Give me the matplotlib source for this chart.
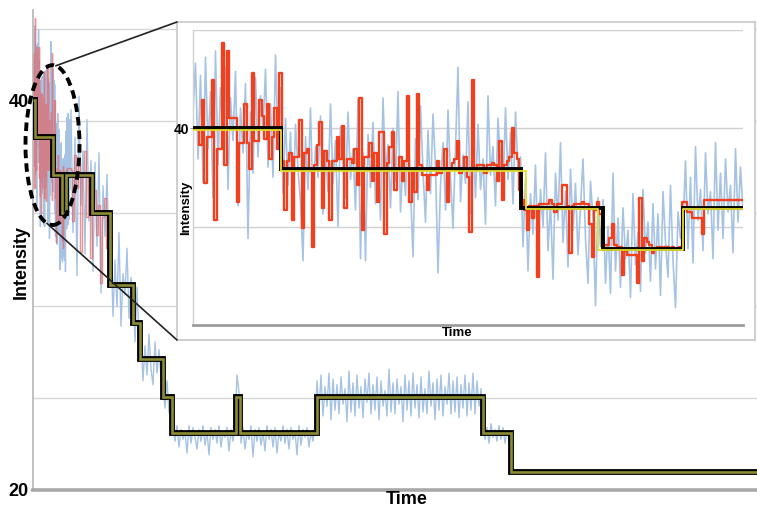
import numpy as np
import matplotlib
matplotlib.use("Agg")
import matplotlib.pyplot as plt
from matplotlib.patches import Ellipse, ConnectionPatch

plt.rcParams['font.family'] = ['Liberation Sans', 'DejaVu Sans']

# ---------------- main trace (time in frames) ----------------
main_fit_edges = [0, 2, 20, 29, 33, 59, 77, 100, 107, 130, 139, 203, 207, 284, 450, 478, 724]
main_fit_levels = [40.0, 38.1, 36.15, 34.2, 36.15, 34.2, 30.5, 28.56, 26.72, 24.77,
                   22.92, 24.77, 22.92, 24.77, 22.92, 20.92]

# raw intensity after the zoomed window, sampled every 2 frames from frame 38
main_blue_start, main_blue_step = 38, 2
main_blue = [
    39.5, 33.2, 38.1, 31.0, 40.2, 34.6, 37.4, 32.1, 39.0, 33.8, 36.9,
    31.2, 36.8, 32.5, 37.3, 30.1, 35.6, 33.0, 36.2, 31.8,
    32.6, 28.9, 31.8, 29.4, 33.2, 28.4, 31.1, 30.0, 32.4, 28.8, 30.9,
    29.9, 27.6, 30.4, 27.8,
    27.9, 25.6, 27.4, 25.9, 28.0, 26.2, 25.4, 27.6, 26.0, 27.2, 25.8,
    25.4, 24.2, 25.6, 24.0, 23.6,
    23.2, 22.5, 23.3, 22.2, 23.1, 22.6, 23.0, 21.9, 23.3, 22.4,
    23.2, 22.7, 22.1, 23.1, 22.5, 23.3, 22.3, 23.0, 21.8, 23.2,
    22.6, 23.1, 22.4, 23.3, 22.2, 23.0, 22.7, 23.2, 22.0, 23.1,
    22.5, 23.4,
    25.9, 25.0,
    22.4, 23.2, 22.1, 23.0, 22.6, 23.3, 21.7, 23.1, 22.5, 23.2,
    22.3, 23.0, 22.0, 23.3, 22.6, 23.1, 22.2, 23.2, 21.9, 23.0,
    22.5, 23.3, 22.4, 23.1, 22.1, 23.2, 22.6, 23.0, 21.8, 23.3,
    22.3, 23.1, 22.7, 23.2, 22.2, 23.0, 22.5, 23.3,
    25.6, 24.0, 25.9, 23.8, 25.3, 24.3, 26.0, 23.6, 25.7, 24.1,
    25.4, 23.9, 25.8, 24.4, 25.2, 23.5, 26.1, 24.0, 25.5, 23.8,
    25.9, 24.2, 25.3, 23.7, 25.7, 24.5, 26.0, 23.9, 25.4, 24.1,
    25.8, 23.6, 25.6, 24.3, 25.1, 23.8, 26.2, 24.0, 25.5, 23.9,
    25.7, 24.4, 25.3, 23.5, 25.9, 24.1, 25.6, 23.8, 26.0, 24.2,
    25.4, 23.7, 25.8, 24.0, 25.2, 23.9, 26.1, 24.3, 25.5, 23.6,
    25.7, 24.1, 25.9, 23.8, 25.3, 24.4, 26.0, 23.9, 25.6, 24.0,
    25.8, 23.7, 25.4, 24.2, 25.9, 23.8, 25.5, 24.1, 26.0, 23.9,
    25.6, 24.3, 25.2,
    23.3, 22.6, 23.2, 22.4, 23.4, 22.7, 23.1, 22.5, 23.3, 22.6,
    23.2, 22.4, 23.0, 22.7, 23.0,
]
main_red_start, main_red_step = 38, 2
main_red = [36.4, 33.8, 37.2, 35.5, 36.8, 32.2, 36.1, 37.4, 34.0, 36.3, 31.9,
            34.2, 35.4, 33.1, 34.6, 30.6, 34.0, 35.0, 32.4, 34.3, 30.5]

main_grid = [24.72, 29.45, 34.2, 38.92, 43.65]
main_ticks = [20, 40]

# ---------------- zoomed window (first frames of the trace) ----------------
zoom_span = 37          # main-trace frames covered by the zoomed window
inset_fit_edges = [0, 35, 131, 164, 196, 220]
inset_fit_levels = [40.0, 38.0, 36.1, 34.1, 36.1]
inset_alt_edges = [0, 35, 133, 162, 196, 220]
inset_alt_levels = [39.93, 37.93, 36.04, 34.04, 36.04]

inset_blue = [
    40.8, 43.2, 38.5, 42.6, 37.4, 43.5, 39.0, 41.8, 36.6, 43.8,
    38.2, 42.0, 40.1, 43.0, 37.0, 41.5, 39.4, 42.8, 36.2, 41.0,
    38.8, 42.2, 34.6, 40.8, 37.8, 42.5, 38.6, 41.6, 39.9, 42.9,
    38.1, 41.2, 37.6, 43.6, 39.2,
    42.0, 36.8, 40.5, 37.2, 39.8, 35.6, 40.2, 38.0, 36.4, 33.5,
    39.6, 37.0, 41.0, 36.2, 39.1, 37.6, 40.6, 35.8, 38.9, 36.9,
    41.2, 37.3, 39.4, 35.2, 40.1, 38.2, 36.6, 40.8, 37.5, 39.0,
    36.0, 41.4, 33.6, 38.8, 33.5, 39.7, 37.1, 40.3, 36.3, 38.6,
    35.5, 41.5, 37.8, 39.2, 36.1, 40.0, 37.4, 41.8, 35.9, 38.4,
    36.7, 40.4, 37.0, 33.7, 39.5, 36.5, 41.1, 37.9, 35.4, 39.9,
    36.8, 40.7, 38.1, 32.9, 37.2, 39.3, 36.0, 40.9, 37.6, 35.1,
    39.0, 43.0, 36.4, 38.7, 37.3, 41.3, 35.8, 39.6, 36.6, 40.2,
    37.0, 38.5, 35.3, 41.6, 37.7, 39.1, 36.2, 40.5, 38.3, 36.9,
    41.0, 37.5, 39.8, 36.3, 40.8, 37.9,
    38.6, 34.2, 37.5, 33.0, 36.8, 34.8, 38.2, 33.6, 37.0, 35.2,
    38.8, 34.0, 36.4, 32.6, 37.8, 35.5, 39.3, 34.4, 36.9, 33.2,
    38.0, 35.0, 37.3, 33.8, 36.2, 38.5, 34.6, 32.4, 37.4, 35.6,
    31.3, 36.6, 34.2,
    36.5, 32.4, 35.2, 31.9, 37.8, 33.0, 35.6, 32.2, 36.1, 33.6,
    35.0, 31.7, 36.8, 33.3, 34.9, 32.0, 37.0, 33.9, 35.4, 32.5,
    36.3, 33.1, 35.8, 31.8, 36.9, 34.4, 32.7, 37.2, 33.5, 31.2,
    35.9, 34.6,
    35.2, 38.4, 34.1, 37.6, 33.4, 39.1, 35.5, 37.0, 34.0, 38.8,
    35.8, 36.9, 33.6, 39.3, 35.0, 37.8, 34.6, 38.5, 35.9, 37.2,
    33.9, 39.0, 35.4, 38.1, 36.0,
]
inset_red = [
    40.0, 40.0, 40.0, 39.2, 41.4, 37.3, 39.6, 39.6, 42.4, 35.5,
    39.0, 39.0, 44.2, 38.2, 43.8, 40.5, 40.5, 40.5, 36.4, 39.3,
    39.3, 41.2, 39.3, 38.0, 42.7, 39.4, 39.4, 41.4, 40.6, 39.5,
    41.2, 38.5, 39.6, 41.0, 39.0,
    42.7, 38.4, 36.0, 38.4, 38.8, 35.5, 38.6, 38.6, 40.4, 35.1,
    38.8, 39.0, 37.9, 34.2, 38.2, 39.2, 40.3, 36.1, 38.9, 38.4,
    35.5, 38.4, 38.4, 39.6, 38.5, 40.1, 36.1, 38.5, 38.5, 38.3,
    39.0, 37.2, 41.5, 35.0, 38.6, 38.6, 39.3, 37.4, 38.8, 36.4,
    39.8, 39.8, 34.8, 38.3, 39.1, 39.8, 37.0, 38.0, 38.6, 37.4,
    38.4, 41.6, 36.4, 38.0, 36.9, 41.7, 38.2, 37.7, 37.7, 37.0,
    37.7, 37.7, 37.7, 38.4, 37.8, 38.0, 39.0, 36.4, 38.0, 38.3,
    38.5, 39.4, 37.8, 38.0, 38.6, 37.6, 34.9, 42.4, 38.0, 38.2,
    38.2, 38.2, 37.8, 38.2, 38.2, 38.3, 38.2, 37.4, 39.4, 36.5,
    38.2, 38.4, 38.6, 40.0, 38.8, 38.5,
    37.0, 36.5, 36.0, 35.0, 36.2, 35.6, 36.2, 32.7, 36.3, 36.3,
    36.3, 36.3, 36.5, 36.3, 35.9, 36.3, 36.3, 37.2, 37.2, 36.2,
    33.9, 36.2, 36.3, 36.3, 36.3, 36.4, 36.3, 36.3, 35.3, 33.7,
    36.0, 36.4, 35.8,
    34.2, 34.3, 34.3, 34.6, 35.3, 34.3, 34.2, 34.2, 32.8, 34.0,
    33.8, 33.8, 33.8, 33.8, 32.4, 36.6, 33.5, 34.6, 34.4, 34.3,
    33.9, 34.1, 34.2, 34.2, 34.1, 34.2, 34.2, 34.1, 34.2, 34.1,
    34.1, 34.2,
    36.4, 36.4, 35.9, 35.9, 35.6, 35.6, 35.6, 35.6, 34.8, 36.5,
    36.5, 36.5, 36.5, 36.5, 36.5, 36.5, 36.5, 36.5, 36.5, 36.5,
    36.5, 36.5, 36.5, 36.5, 36.5,
]
inset_grid = [35.17, 40.0, 44.83]

# highlighted region on the main trace: centre, width (frames), height (intensity)
zoom_ellipse = (19.5, 37.69, 54, 8.2)
connector_angles = [83, 258]   # degrees on the ellipse where the guide lines start

BLUE = '#a6c3e4'
RED = '#f2401e'


def step_xy(edges, levels):
    x = np.repeat(np.asarray(edges, float), 2)[1:-1]
    y = np.repeat(np.asarray(levels, float), 2)
    return x, y


W, H = 757, 508
fig = plt.figure(figsize=(W / 100, H / 100), dpi=100)
fig.patch.set_facecolor('white')


def px_rect(x0, y0, x1, y1):
    return [x0 / W, 1 - y1 / H, (x1 - x0) / W, (y1 - y0) / H]


# ---------------- main axes ----------------
ax = fig.add_axes(px_rect(33, 10, 757, 490))
ax.set_xlim(0, 724)
ax.set_ylim(20, 44.62)
for s in ('top', 'right'):
    ax.spines[s].set_visible(False)
ax.spines['left'].set_color('#c0c0c0')
ax.spines['left'].set_linewidth(1.4)
ax.spines['bottom'].set_color('#a8a8a8')
ax.spines['bottom'].set_linewidth(2.6)
ax.set_xticks([])
ax.set_yticks(main_ticks)
ax.set_yticklabels([str(t) for t in main_ticks], fontsize=13, fontweight='bold')
ax.tick_params(axis='y', length=2, pad=1, color='#999999')
for g in main_grid:
    ax.axhline(g, color='#d6d6d6', lw=1.0, zorder=1)

n_in = len(inset_blue)
t_zoom = np.arange(n_in) * zoom_span / (n_in - 1)
t_main_blue = main_blue_start + main_blue_step * np.arange(len(main_blue))
t_main_red = main_red_start + main_red_step * np.arange(len(main_red))

ax.plot(np.concatenate([t_zoom, t_main_blue]), np.concatenate([inset_blue, main_blue]),
        color=BLUE, lw=1.0, zorder=2)
n_red = len(inset_red)
t_zoom_red = np.arange(n_red) * zoom_span / (n_red - 1)
ax.plot(np.concatenate([t_zoom_red, t_main_red]), np.concatenate([inset_red, main_red]),
        color='#e26464', lw=1.0, alpha=0.7, zorder=3, drawstyle='steps-mid')

fx, fy = step_xy(main_fit_edges, main_fit_levels)
ax.plot(fx, fy, color='black', lw=4.2, zorder=4, solid_joinstyle='miter', solid_capstyle='butt')
ax.plot(fx, fy, color='#8d8b34', lw=1.9, zorder=5, solid_joinstyle='miter', solid_capstyle='butt')

cx, cy, ew, eh = zoom_ellipse
ax.add_patch(Ellipse((cx, cy), ew, eh, fill=False, ec='black', lw=2.8,
                     ls=(0, (2.2, 1.3)), zorder=7, clip_on=False))

fig.text(21 / W, 1 - 262 / H, 'Intensity', rotation=90, ha='center', va='center',
         fontsize=13, fontweight='bold')
fig.text(407 / W, 1 - 499 / H, 'Time', ha='center', va='center',
         fontsize=13, fontweight='bold')

# ---------------- zoomed window ----------------
frame = fig.add_axes(px_rect(177, 22, 755, 340))
frame.set_xticks([])
frame.set_yticks([])
frame.set_facecolor('white')
for s in frame.spines.values():
    s.set_color('#cccccc')
    s.set_linewidth(1.3)
frame.set_zorder(5)

ia = fig.add_axes(px_rect(193, 30, 743, 325))
ia.set_zorder(6)
ia.patch.set_alpha(0)
ia.set_xlim(0, len(inset_blue) - 1)
ia.set_ylim(30.35, 44.83)
for s in ('top', 'right'):
    ia.spines[s].set_visible(False)
ia.spines['left'].set_color('#d0d0d0')
ia.spines['left'].set_linewidth(1.0)
ia.spines['bottom'].set_color('#9c9c9c')
ia.spines['bottom'].set_linewidth(2.0)
ia.set_xticks([])
ia.set_yticks([40])
ia.set_yticklabels(['40'], fontsize=10, fontweight='bold')
ia.tick_params(axis='y', length=2, pad=0.5, color='#999999')
for g in inset_grid:
    ia.axhline(g, color='#d0d0d0', lw=1.0, zorder=1)

frames_in = np.arange(len(inset_blue))
ia.plot(frames_in, inset_blue, color=BLUE, lw=1.2, zorder=2)
ia.plot(np.arange(len(inset_red)), inset_red, color=RED, lw=1.7, zorder=3,
        drawstyle='steps-mid')
ix, iy = step_xy(inset_fit_edges, inset_fit_levels)
ia.plot(ix, iy, color='black', lw=2.8, zorder=4, solid_joinstyle='miter')
ax2, ay2 = step_xy(inset_alt_edges, inset_alt_levels)
ia.plot(ax2, ay2, color='#e4df2c', lw=1.3, zorder=5)

fig.text(186 / W, 1 - 208 / H, 'Intensity', rotation=90, ha='center', va='center',
         fontsize=9.5, fontweight='bold', zorder=10)
fig.text(457 / W, 1 - 333 / H, 'Time', ha='center', va='center',
         fontsize=9.5, fontweight='bold', zorder=10)

# guide lines from the highlighted region to the zoomed window
corners = [(0, 1), (0, 0)]
for ang, corner in zip(connector_angles, corners):
    th = np.deg2rad(ang)
    p = (cx + ew / 2 * np.cos(th), cy + eh / 2 * np.sin(th))
    con = ConnectionPatch(xyA=p, coordsA=ax.transData, xyB=corner, coordsB=frame.transAxes,
                          color='#222222', lw=1.2, zorder=8)
    fig.add_artist(con)

fig.savefig('out.png', dpi=100, facecolor='white')
